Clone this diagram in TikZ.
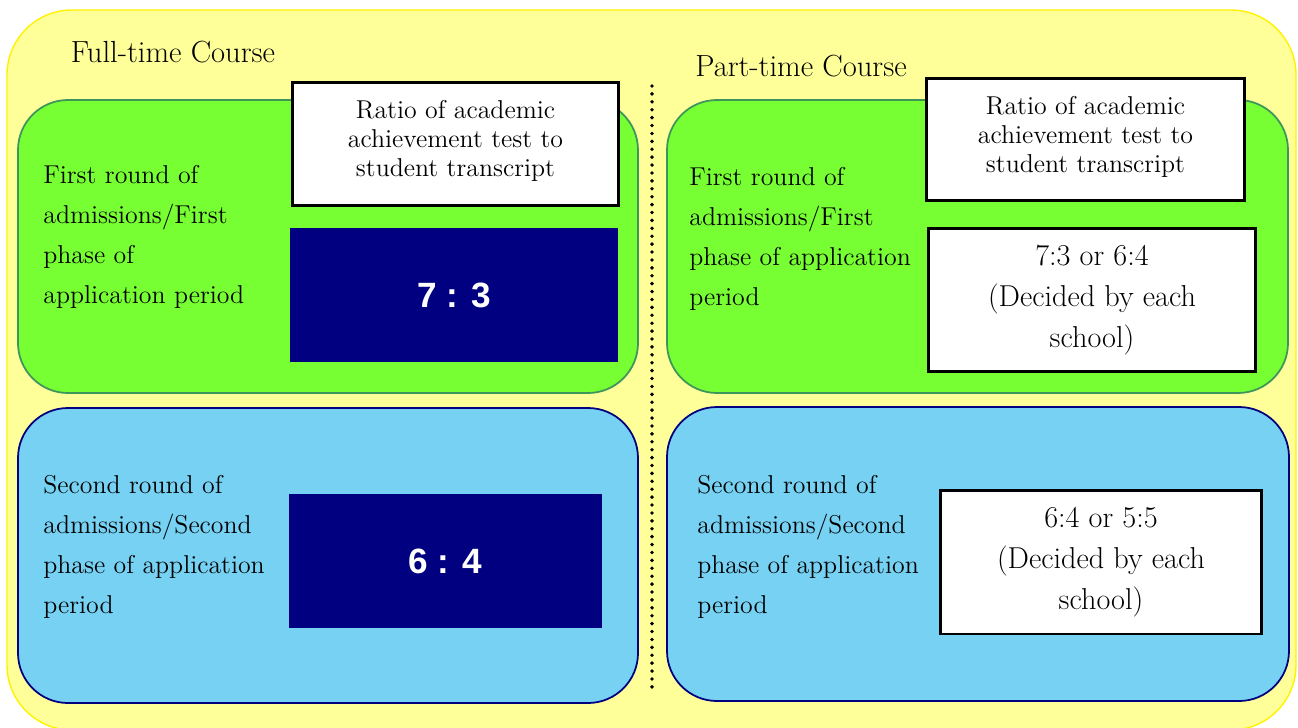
\documentclass[tikz,border=0pt]{standalone}
\usepackage{fontspec}
\newfontfamily\ratiofont{Liberation Sans}
\definecolor{paleyellow}{RGB}{255,255,153}
\definecolor{limegreen}{RGB}{119,255,51}
\definecolor{greenedge}{RGB}{60,150,90}
\definecolor{skyblue}{RGB}{118,209,243}
\definecolor{navy}{RGB}{0,0,128}
\begin{document}
\begin{tikzpicture}[x=0.02cm,y=-0.02cm,
  sidetext/.style={anchor=west,align=left,inner sep=0pt,font=\fontsize{14.7}{22.7}\selectfont},
  headtext/.style={align=center,inner sep=0pt,font=\fontsize{14.7}{16.3}\selectfont},
  headbox/.style={draw=black,line width=1.7pt,fill=white,inner sep=0pt},
  ratiobox/.style={fill=navy,text=white,inner sep=0pt,font=\ratiofont\bfseries\fontsize{20}{24}\selectfont},
  choicebox/.style={draw=black,line width=1.7pt,fill=white,align=center,inner sep=0pt,
    font=\fontsize{17.2}{23.4}\selectfont},
  titletext/.style={font=\fontsize{17.4}{19}\selectfont}]
\useasboundingbox (0,0) rectangle (1298,727);

% background and the two columns
\draw[draw=yellow,fill=paleyellow,line width=0.8pt,rounded corners=1.3cm] (7,10) rectangle (1296,730);
\node[titletext] (fulltitle) at (173,52) {Full-time Course};
\node[titletext] (parttitle) at (801,66) {Part-time Course};
\coordinate (divtop) at (652,86);
\coordinate (divbot) at (652,690);
\draw[line width=2.2pt,line cap=round,dash pattern=on 0pt off 4.5pt] (divtop) -- (divbot);

% first round
\draw[draw=greenedge,fill=limegreen,line width=1pt,rounded corners=1cm] (18,100) rectangle (638,393);
\draw[draw=greenedge,fill=limegreen,line width=1pt,rounded corners=1cm] (667,100) rectangle (1288,393);
\node[sidetext] (firstleft) at (43,237) {First round of\\admissions/First\\phase of\\application period};
\node[sidetext] (firstright) at (689,239) {First round of\\admissions/First\\phase of application\\period};
\node[headbox,minimum width=6.54cm,minimum height=2.48cm] (headleft) at (455.5,144) {};
\node[headtext] (headlefttext) at (455.5,141) {Ratio of academic\\achievement test to\\student transcript};
\node[headbox,minimum width=6.38cm,minimum height=2.46cm] (headright) at (1085.5,139.5) {};
\node[headtext] (headrighttext) at (1085.5,137) {Ratio of academic\\achievement test to\\student transcript};
\node[ratiobox,minimum width=6.56cm,minimum height=2.68cm] (ratiofirst) at (454,295) {7 : 3};
\node[choicebox,minimum width=6.56cm,minimum height=2.88cm] (choicefirst) at (1092,300) {7:3 or 6:4\\(Decided by each\\school)};

% second round
\draw[draw=navy,fill=skyblue,line width=1pt,rounded corners=1cm] (18,408) rectangle (638,703);
\draw[draw=navy,fill=skyblue,line width=1pt,rounded corners=1cm] (667,407) rectangle (1289,701);
\node[sidetext] (secondleft) at (43,547) {Second round of\\admissions/Second\\phase of application\\period};
\node[sidetext] (secondright) at (697,547) {Second round of\\admissions/Second\\phase of application\\period};
\node[ratiobox,minimum width=6.26cm,minimum height=2.68cm] (ratiosecond) at (445.5,561) {6 : 4};
\node[choicebox,minimum width=6.44cm,minimum height=2.88cm] (choicesecond) at (1101,562) {6:4 or 5:5\\(Decided by each\\school)};
\end{tikzpicture}
\end{document}
